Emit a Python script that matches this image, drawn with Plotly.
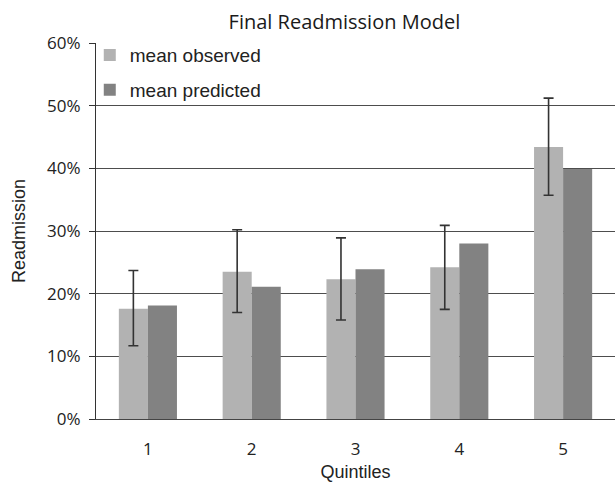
import plotly.graph_objects as go

quintiles = ["1", "2", "3", "4", "5"]
mean_observed = [0.176, 0.235, 0.223, 0.242, 0.434]
mean_predicted = [0.181, 0.211, 0.239, 0.280, 0.399]
ci_upper = [0.237, 0.302, 0.289, 0.309, 0.512]
ci_lower = [0.117, 0.170, 0.158, 0.175, 0.357]

err_plus = [u - m for u, m in zip(ci_upper, mean_observed)]
err_minus = [m - l for m, l in zip(mean_observed, ci_lower)]

fig = go.Figure()
fig.add_trace(go.Bar(
    x=quintiles, y=mean_observed, name="mean observed",
    marker=dict(color="#b2b2b2", line=dict(width=0)),
    error_y=dict(type="data", symmetric=False, array=err_plus, arrayminus=err_minus,
                 color="#333333", thickness=1.6, width=5),
    legend="legend",
))
fig.add_trace(go.Bar(
    x=quintiles, y=mean_predicted, name="mean predicted",
    marker=dict(color="#828282", line=dict(width=0)),
    legend="legend2",
))

legend_font = dict(family="Liberation Sans, Arial, sans-serif", size=19, color="#222222")
tick_font = dict(family="Open Sans, sans-serif", size=17, color="#222222")
axis_title_font = dict(family="Liberation Sans, Arial, sans-serif", size=18, color="#222222")
fig.update_layout(
    width=615, height=486,
    margin=dict(l=96, r=0, t=43, b=67, autoexpand=False),
    paper_bgcolor="white", plot_bgcolor="white",
    barmode="group", bargap=0.44, bargroupgap=0,
    title=dict(text="Final Readmission Model", x=0.560, xanchor="center", y=0.955, yanchor="middle",
               font=dict(family="Open Sans, sans-serif", size=20, color="#1a1a1a")),
    legend=dict(x=-0.012, xanchor="left", y=0.968, yanchor="middle", font=legend_font,
                bgcolor="rgba(0,0,0,0)", itemwidth=30),
    legend2=dict(x=-0.012, xanchor="left", y=0.875, yanchor="middle", font=legend_font,
                 bgcolor="rgba(0,0,0,0)", itemwidth=30),
    showlegend=True,
)
fig.update_yaxes(
    range=[0, 0.6], dtick=0.1, tickformat=".0%",
    showgrid=True, gridcolor="#4d4d4d", gridwidth=1.3,
    showline=True, linecolor="#333333", linewidth=1.3,
    ticks="outside", ticklen=6, tickcolor="#333333",
    ticklabelstandoff=5,
    zeroline=False,
    tickfont=tick_font,
    title=dict(text="Readmission", standoff=16, font=axis_title_font),
)
fig.update_xaxes(
    showline=True, linecolor="#444444", linewidth=1.3,
    ticks="", showgrid=False,
    ticklabelstandoff=14,
    tickfont=tick_font,
    title=dict(text="Quintiles", standoff=6, font=axis_title_font),
)

fig.write_html("out.html", config={"displayModeBar": False},
               post_script="document.body.style.margin='0';document.body.style.overflow='hidden';")
